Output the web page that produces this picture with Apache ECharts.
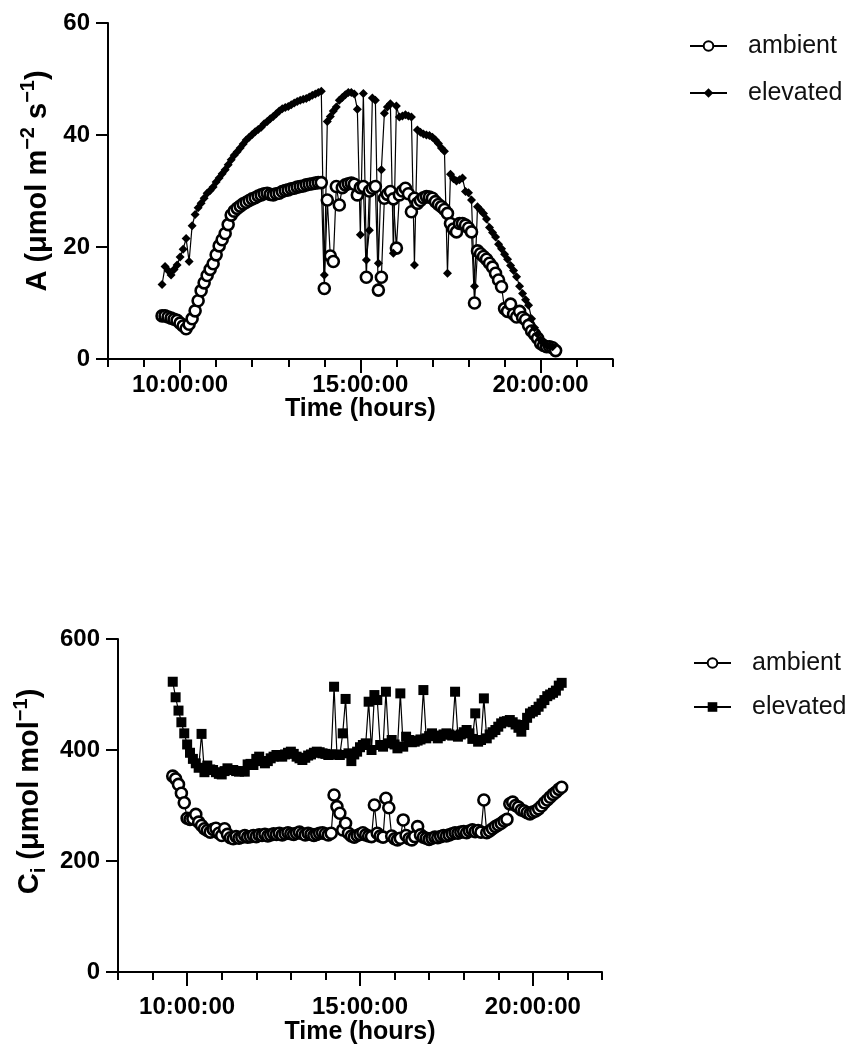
<!DOCTYPE html>
<html>
<head>
<meta charset="utf-8">
<title>A and Ci over the day</title>
<script src="https://cdn.jsdelivr.net/npm/echarts@6/dist/echarts.min.js"></script>
<style>
    html, body { margin: 0; padding: 0; background: #fff; }
    #main { width: 851px; height: 1059px; }
</style>
</head>
<body>
<div id="main"></div>
<script>
// ---- data: top panel, net assimilation A (umol m-2 s-1) ----
var topTimes = [
    '09:30', '09:35', '09:40', '09:45', '09:50', '09:55',
    '10:00', '10:05', '10:10', '10:15', '10:20', '10:25', '10:30', '10:35', '10:40', '10:45', '10:50', '10:55',
    '11:00', '11:05', '11:10', '11:15', '11:20', '11:25', '11:30', '11:35', '11:40', '11:45', '11:50', '11:55',
    '12:00', '12:05', '12:10', '12:15', '12:20', '12:25', '12:30', '12:35', '12:40', '12:45', '12:50', '12:55',
    '13:00', '13:05', '13:10', '13:15', '13:20', '13:25', '13:30', '13:35', '13:40', '13:45', '13:50', '13:55',
    '14:00', '14:05', '14:10', '14:15', '14:20', '14:25', '14:30', '14:35', '14:40', '14:45', '14:50', '14:55',
    '15:00', '15:05', '15:10', '15:15', '15:20', '15:25', '15:30', '15:35', '15:40', '15:45', '15:50', '15:55',
    '16:00', '16:05', '16:10', '16:15', '16:20', '16:25', '16:30', '16:35', '16:40', '16:45', '16:50', '16:55',
    '17:00', '17:05', '17:10', '17:15', '17:20', '17:25', '17:30', '17:35', '17:40', '17:45', '17:50', '17:55',
    '18:00', '18:05', '18:10', '18:15', '18:20', '18:25', '18:30', '18:35', '18:40', '18:45', '18:50', '18:55',
    '19:00', '19:05', '19:10', '19:15', '19:20', '19:25', '19:30', '19:35', '19:40', '19:45', '19:50', '19:55',
    '20:00', '20:05', '20:10', '20:15', '20:20', '20:25'
];
var topAmbient = [
    7.7, 7.7, 7.5, 7.3, 7.1, 6.9,
    6.4, 5.9, 5.4, 6.2, 7.2, 8.6, 10.4, 12.2, 13.6, 14.9, 16.0, 17.0,
    18.6, 20.2, 21.3, 22.4, 24.0, 25.7, 26.4, 26.9, 27.3, 27.7, 28.0, 28.3,
    28.6, 28.8, 29.1, 29.3, 29.5, 29.6, 29.4, 29.3, 29.5, 29.6, 29.9, 30.1,
    30.2, 30.4, 30.5, 30.7, 30.8, 30.9, 31.1, 31.2, 31.3, 31.4, 31.5, 31.5,
    12.6, 28.4, 18.4, 17.4, 30.8, 27.5, 30.6, 31.1, 31.3, 31.4, 31.2, 29.3,
    30.6, 30.8, 14.6, 30.0, 30.5, 30.8, 12.3, 14.6, 28.7, 29.4, 29.9, 28.6,
    19.8, 29.3, 30.0, 30.5, 29.5, 26.3, 28.7, 27.8, 28.3, 28.8, 29.0, 28.9,
    28.7, 28.1, 27.6, 27.2, 26.7, 26.0, 24.2, 23.2, 22.7, 24.2, 24.2, 23.9,
    23.4, 22.7, 10.0, 19.3, 18.8, 18.3, 17.8, 17.1, 16.4, 15.3, 14.1, 12.9,
    9.0, 8.5, 9.8, 8.0, 7.5, 8.5, 7.4, 7.0, 6.0, 5.0, 4.4, 3.7,
    2.8, 2.4, 2.2, 2.2, 2.0, 1.5
];
var topElevated = [
    13.3, 16.5, 15.8, 15.0, 16.0, 16.8,
    18.2, 19.6, 21.5, 17.4, 23.8, 25.8, 27.0, 27.8, 28.7, 29.6, 30.1, 30.7,
    31.6, 32.3, 33.1, 33.8, 34.7, 35.6, 36.4, 37.0, 37.7, 38.4, 39.1, 39.6,
    40.1, 40.6, 41.0, 41.4, 42.0, 42.4, 42.9, 43.3, 43.8, 44.3, 44.7, 44.9,
    45.1, 45.4, 45.7, 46.0, 46.2, 46.4, 46.5, 46.8, 47.1, 47.3, 47.6, 47.8,
    15.0, 42.4, 43.3, 44.3, 45.0, 46.2, 46.7, 47.2, 47.6, 47.6, 47.3, 44.6,
    22.2, 47.4, 17.7, 23.0, 46.6, 46.2, 17.1, 33.8, 43.9, 45.0, 45.6, 18.9,
    45.2, 43.2, 43.4, 43.6, 43.4, 43.2, 16.8, 40.9, 40.5, 40.2, 40.0, 39.9,
    39.6, 39.1, 38.5, 37.7, 37.1, 15.3, 33.0, 32.2, 31.8, 32.0, 32.3, 29.9,
    29.7, 28.4, 13.0, 27.2, 26.6, 26.0, 25.0, 23.5, 22.6, 21.8, 20.5, 19.7,
    18.7, 17.8, 16.7, 15.8, 14.7, 13.0, 11.7, 10.6, 9.6, 7.2, 5.6, 4.4,
    3.4, 2.8, 2.5, 2.3, 2.2, null
];

// ---- data: bottom panel, intercellular CO2 Ci (umol mol-1) ----
var ciTimes = [
    '09:35', '09:40', '09:45', '09:50', '09:55',
    '10:00', '10:05', '10:10', '10:15', '10:20', '10:25', '10:30', '10:35', '10:40', '10:45', '10:50', '10:55',
    '11:00', '11:05', '11:10', '11:15', '11:20', '11:25', '11:30', '11:35', '11:40', '11:45', '11:50', '11:55',
    '12:00', '12:05', '12:10', '12:15', '12:20', '12:25', '12:30', '12:35', '12:40', '12:45', '12:50', '12:55',
    '13:00', '13:05', '13:10', '13:15', '13:20', '13:25', '13:30', '13:35', '13:40', '13:45', '13:50', '13:55',
    '14:00', '14:05', '14:10', '14:15', '14:20', '14:25', '14:30', '14:35', '14:40', '14:45', '14:50', '14:55',
    '15:00', '15:05', '15:10', '15:15', '15:20', '15:25', '15:30', '15:35', '15:40', '15:45', '15:50', '15:55',
    '16:00', '16:05', '16:10', '16:15', '16:20', '16:25', '16:30', '16:35', '16:40', '16:45', '16:50', '16:55',
    '17:00', '17:05', '17:10', '17:15', '17:20', '17:25', '17:30', '17:35', '17:40', '17:45', '17:50', '17:55',
    '18:00', '18:05', '18:10', '18:15', '18:20', '18:25', '18:30', '18:35', '18:40', '18:45', '18:50', '18:55',
    '19:00', '19:05', '19:10', '19:15', '19:20', '19:25', '19:30', '19:35', '19:40', '19:45', '19:50', '19:55',
    '20:00', '20:05', '20:10', '20:15', '20:20', '20:25', '20:30', '20:35', '20:40', '20:45', '20:50'
];
var ciAmbient = [
    353, 348, 338, 322, 305,
    277, 275, 276, 284, 270, 264, 258, 255, 252, 257, 259, 250,
    246, 258, 248, 242, 240, 244, 241, 243, 246, 243, 244, 246,
    244, 247, 246, 248, 245, 247, 249, 248, 250, 247, 249, 251,
    249, 248, 250, 252, 249, 247, 250, 248, 246, 248, 250, 251,
    249, 247, 250, 319, 298, 286, 256, 268, 250, 245, 243, 246,
    248, 251, 247, 245, 244, 301, 250, 245, 243, 313, 296, 245,
    240, 238, 241, 274, 246, 240, 238, 244, 262, 247, 243, 241,
    239, 241, 243, 242, 244, 246, 245, 247, 249, 251, 250, 252,
    253, 251, 254, 256, 253, 255, 252, 310, 251, 254, 258, 262,
    265, 268, 272, 275, 303, 306, 300, 297, 292, 290, 287, 285,
    288, 290, 294, 299, 305, 310, 315, 320, 324, 329, 333
];
var ciElevated = [
    523, 495, 471, 450, 430,
    410, 395, 384, 376, 368, 429, 360, 372, 365, 364, 360, 357,
    356, 362, 367, 364, 364, 362, 361, 362, 361, 374, 375, 373,
    384, 388, 380, 376, 380, 385, 388, 391, 389, 388, 392, 395,
    397, 393, 388, 385, 382, 386, 390, 392, 395, 397, 396, 394,
    393, 391, 392, 514, 392, 391, 430, 492, 394, 380, 392, 397,
    405, 409, 412, 487, 400, 499, 490, 409, 406, 505, 412, 418,
    410, 403, 502, 406, 424, 418, 414, 415, 417, 419, 508, 421,
    425, 430, 426, 421, 425, 428, 430, 428, 426, 505, 424, 428,
    432, 436, 430, 420, 466, 415, 418, 493, 421, 428, 432, 436,
    442, 448, 451, 452, 454, 450, 446, 440, 433, 445, 458, 466,
    469, 472, 478, 484, 490, 497, 500, 503, 507, 516, 521
];

// axis ticks / labels
var hourTicks = [10, 15, 20];
var aRange = [0, 60, 20];
var ciRange = [0, 600, 200];

var FONT = '"Liberation Sans", Arial, Helvetica, sans-serif';

init();

function init() {
    var myChart = echarts.init(document.getElementById('main'), null, {renderer: 'canvas'});
    myChart.setOption(buildOption());
}

// "HH:MM" -> decimal hours
function toHours(t) {
    var p = t.split(':');
    return parseInt(p[0], 10) + parseInt(p[1], 10) / 60;
}

function pairs(times, values) {
    var out = [];
    for (var i = 0; i < times.length; i++) {
        if (values[i] === null || values[i] === undefined) continue;
        out.push([toHours(times[i]), values[i]]);
    }
    return out;
}

function hourLabel(v) {
    return (v < 10 ? '0' : '') + v + ':00:00';
}

// two x axes per grid: hourly minor ticks + long major ticks with labels
function timeAxes(gridIndex, labelMargin, nameGap) {
    var base = {
        type: 'value',
        gridIndex: gridIndex,
        min: 8,
        max: 22,
        position: 'bottom',
        splitLine: {show: false}
    };
    var minor = Object.assign({}, base, {
        interval: 1,
        axisLine: {show: true, onZero: false, lineStyle: {color: '#000', width: 2}},
        axisTick: {show: true, length: 8, lineStyle: {color: '#000', width: 2}},
        axisLabel: {show: false},
        name: 'Time (hours)',
        nameLocation: 'middle',
        nameGap: nameGap,
        nameTextStyle: {color: '#000', fontSize: 25, fontWeight: 'bold', fontFamily: FONT}
    });
    var major = Object.assign({}, base, {
        axisLine: {show: false, onZero: false},
        axisTick: {show: true, length: 14, customValues: hourTicks, lineStyle: {color: '#000', width: 2}},
        axisLabel: {
            show: true,
            customValues: hourTicks,
            margin: labelMargin,
            formatter: hourLabel,
            color: '#000',
            fontSize: 24,
            fontWeight: 'bold',
            fontFamily: FONT
        }
    });
    return [minor, major];
}

function valueAxis(gridIndex, range, name, nameGap, shift) {
    return {
        type: 'value',
        gridIndex: gridIndex,
        min: range[0],
        max: range[1],
        interval: range[2],
        axisLine: {show: true, onZero: false, lineStyle: {color: '#000', width: 2}},
        axisTick: {show: true, length: 12, lineStyle: {color: '#000', width: 2}},
        axisLabel: {color: '#000', fontSize: 24, fontWeight: 'bold', fontFamily: FONT, margin: 18},
        splitLine: {show: false},
        name: name,
        nameLocation: 'middle',
        nameGap: nameGap,
        nameTextStyle: {
            color: '#000',
            fontFamily: FONT,
            padding: [0, 0, 0, shift],
            rich: {
                b: {fontSize: 29, fontWeight: 'bold', fontFamily: FONT, color: '#000', lineHeight: 38},
                s: {fontSize: 20, fontWeight: 'bold', fontFamily: FONT, color: '#000', verticalAlign: 'top', lineHeight: 20},
                d: {fontSize: 20, fontWeight: 'bold', fontFamily: FONT, color: '#000', verticalAlign: 'bottom', lineHeight: 20}
            }
        }
    };
}

function lineSeries(name, xi, yi, data, symbol, size, hollow) {
    return {
        name: name,
        type: 'line',
        xAxisIndex: xi,
        yAxisIndex: yi,
        data: data,
        symbol: symbol,
        symbolSize: size,
        showAllSymbol: true,
        lineStyle: {color: '#000', width: 1.2},
        itemStyle: hollow
            ? {color: '#fff', borderColor: '#000', borderWidth: 2.6}
            : {color: '#000', borderColor: '#000', borderWidth: 0},
        emphasis: {disabled: true},
        silent: true
    };
}

function legendBox(names, left, top, gap) {
    return {
        data: names,
        orient: 'vertical',
        left: left,
        top: top,
        padding: 0,
        itemWidth: 37,
        itemHeight: 12,
        itemGap: gap,
        selectedMode: false,
        formatter: function (n) {
            return n.replace('Ci ', '');
        },
        lineStyle: {width: 2},
        textStyle: {color: '#111', fontSize: 25, fontFamily: FONT, lineHeight: 26, padding: [0, 0, 0, 16]}
    };
}

function buildOption() {
    var xTop = timeAxes(0, 14, 38);
    var xBot = timeAxes(1, 23, 48);
    return {
        backgroundColor: '#fff',
        animation: false,
        grid: [
            {left: 108, top: 23, width: 504.7, height: 336},
            {left: 118, top: 639, width: 484, height: 333}
        ],
        xAxis: [xTop[0], xTop[1], xBot[0], xBot[1]],
        yAxis: [
            valueAxis(0, aRange, '{b|A (μmol m}{s|−2}{b| s}{s|−1}{b|)}', 49, 20),
            valueAxis(1, ciRange, '{b|C}{d|i}{b| (μmol mol}{s|−1}{b|)}', 58, 28)
        ],
        legend: [
            legendBox(['ambient', 'elevated'], 689, 33, 21),
            legendBox(['Ci ambient', 'Ci elevated'], 693, 650, 18)
        ],
        series: [
            lineSeries('ambient', 0, 0, pairs(topTimes, topAmbient), 'circle', 11, true),
            lineSeries('elevated', 0, 0, pairs(topTimes, topElevated), 'diamond', 9, false),
            lineSeries('Ci ambient', 2, 1, pairs(ciTimes, ciAmbient), 'circle', 11, true),
            lineSeries('Ci elevated', 2, 1, pairs(ciTimes, ciElevated), 'rect', 10, false)
        ]
    };
}
</script>
</body>
</html>
